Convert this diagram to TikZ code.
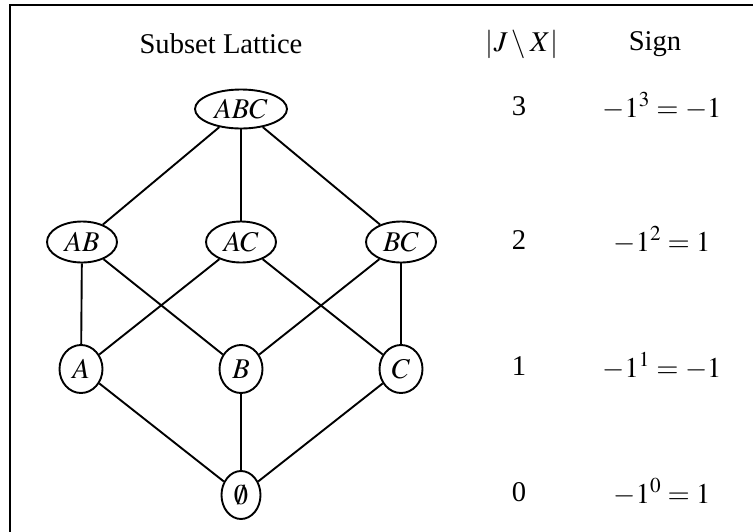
\documentclass[tikz,border=0pt]{standalone}
\usepackage{mathptmx}
\usepackage[no-math]{fontspec}
\setmainfont{Liberation Serif}
\usetikzlibrary{shapes.geometric}

\begin{document}
\begin{tikzpicture}[x=1pt,y=-1pt,
  every node/.style={font=\fontsize{28.6}{34}\selectfont},
  setnode/.style={draw,ellipse,line width=1.9pt,inner sep=0pt},
  lvl3/.style={setnode,minimum width=92pt,minimum height=39pt},
  lvl2/.style={setnode,minimum width=70pt,minimum height=41pt},
  lvl1/.style={setnode,minimum width=43pt,minimum height=48pt},
  lvl0/.style={setnode,minimum width=39pt,minimum height=48pt},
  edge/.style={line width=1.9pt},
  cell/.style={anchor=center}]
  \useasboundingbox (0,0) rectangle (753,531);
  \begin{scope}
    \clip (0,0) rectangle (753,531);
    \draw[line width=2.8pt] (10,5) rectangle (900,700);
  \end{scope}

  % column headers
  \node[cell] (hdrlat) at (221,44) {Subset Lattice};
  \node[cell] (hdrsize) at (522,44) {$|J\setminus X|$};
  \node[cell] (hdrsign) at (655,44) {Sign};

  % lattice of subsets
  \node[lvl3] (abc) at (241,109) {$ABC$};
  \node[lvl2] (ab) at (82,242) {$AB$};
  \node[lvl2] (ac) at (241,242) {$AC$};
  \node[lvl2] (bc) at (401,242) {$BC$};
  \node[lvl1] (a) at (81,369) {$A$};
  \node[lvl1] (b) at (241,369) {$B$};
  \node[lvl1] (c) at (401,369) {$C$};
  \node[lvl0] (e) at (241,495) {$\emptyset$};

  \draw[edge] (abc) -- (ab);
  \draw[edge] (abc) -- (ac);
  \draw[edge] (abc) -- (bc);
  \draw[edge] (ab) -- (a);
  \draw[edge] (ab) -- (b);
  \draw[edge] (ac) -- (a);
  \draw[edge] (ac) -- (c);
  \draw[edge] (bc) -- (b);
  \draw[edge] (bc) -- (c);
  \draw[edge] (a) -- (e);
  \draw[edge] (b) -- (e);
  \draw[edge] (c) -- (e);

  % sizes and signs per level
  \node[cell] (n3) at (519,106) {3};
  \node[cell] (s3) at (662,106) {$-1^3=-1$};
  \node[cell] (n2) at (519,240) {2};
  \node[cell] (s2) at (662,240) {$-1^2=1$};
  \node[cell] (n1) at (519,366) {1};
  \node[cell] (s1) at (662,366) {$-1^1=-1$};
  \node[cell] (n0) at (519,492) {0};
  \node[cell] (s0) at (662,492) {$-1^0=1$};
\end{tikzpicture}
\end{document}
